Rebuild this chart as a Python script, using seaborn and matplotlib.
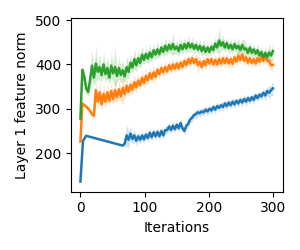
import matplotlib
matplotlib.use("Agg")
import matplotlib.pyplot as plt
import seaborn as sns
import pandas as pd

# ---------------- data ----------------
x_main = list(range(0, 301, 3))            # iterations for orange / green
x_blue = [0, 4, 9, 66] + list(range(69, 301, 3))

blue_vals = [136, 228, 239, 217,
             222, 240, 230, 244, 232, 240, 228, 238, 230, 240,
             231, 242, 234, 246, 236, 247, 238, 248, 238, 250,
             240, 252, 252, 260, 252, 262, 254, 264, 256, 268,
             256, 250, 262, 266, 276, 280, 286, 288, 292, 290,
             294, 292, 298, 294, 300, 296, 304, 298, 306, 302,
             308, 304, 312, 306, 314, 308, 316, 310, 318, 312,
             320, 314, 322, 316, 324, 318, 326, 320, 330, 324,
             332, 328, 336, 330, 340, 336, 342, 346]
blue_spread = [0, 0, 0, 0,
               8, 25, 18, 15, 12, 14, 10, 12, 9, 10,
               8, 10, 9, 11, 8, 10, 9, 10, 8, 10,
               8, 10, 8, 9, 8, 10, 8, 10, 8, 12,
               8, 9, 8, 10, 8, 9, 8, 10, 8, 9,
               8, 9, 8, 10, 8, 9, 8, 10, 8, 9,
               8, 9, 8, 10, 8, 9, 8, 10, 8, 9,
               8, 9, 8, 10, 8, 9, 8, 10, 8, 9,
               8, 10, 9, 12, 10, 14, 12, 16]

orange_vals = [226, 312, 308, 305, 300, 295, 288, 284, 342, 316,
               337, 310, 334, 316, 337, 318, 340, 322, 342, 326,
               344, 328, 347, 333, 352, 338, 354, 343, 360, 348,
               364, 353, 370, 358, 374, 364, 380, 368, 382, 372,
               388, 378, 392, 382, 394, 384, 398, 388, 400, 390,
               402, 391, 404, 394, 408, 398, 412, 402, 414, 403,
               412, 398, 406, 394, 408, 398, 412, 402, 412, 400,
               410, 400, 412, 402, 414, 403, 414, 402, 412, 401,
               416, 406, 420, 410, 422, 408, 416, 404, 414, 403,
               412, 402, 414, 406, 417, 408, 418, 408, 408, 398,
               399]
orange_spread = [0, 4, 4, 4, 4, 4, 5, 10, 20, 15,
                 25, 12, 22, 14, 20, 12, 22, 14, 25, 12,
                 20, 14, 35, 12, 18, 12, 16, 10, 18, 12,
                 16, 10, 15, 12, 18, 10, 14, 12, 16, 10,
                 14, 10, 12, 10, 14, 10, 12, 10, 14, 10,
                 12, 10, 12, 10, 12, 10, 12, 10, 12, 10,
                 12, 20, 12, 10, 12, 10, 12, 10, 12, 10,
                 12, 10, 14, 10, 12, 10, 12, 10, 12, 10,
                 12, 10, 14, 10, 12, 10, 12, 10, 12, 10,
                 12, 10, 12, 10, 12, 10, 14, 10, 15, 12,
                 14]

green_vals = [278, 388, 372, 345, 338, 365, 397, 370, 402, 383,
              394, 376, 400, 378, 392, 370, 397, 380, 394, 374,
              392, 376, 387, 373, 394, 383, 404, 393, 412, 398,
              414, 403, 422, 410, 424, 413, 427, 416, 432, 422,
              434, 423, 438, 428, 442, 431, 444, 434, 446, 434,
              440, 430, 444, 434, 446, 436, 448, 438, 446, 435,
              444, 433, 442, 430, 440, 428, 438, 428, 440, 432,
              447, 438, 454, 442, 450, 438, 448, 436, 444, 434,
              446, 436, 442, 432, 444, 434, 436, 426, 438, 426,
              434, 424, 432, 420, 428, 416, 426, 416, 427, 420,
              430]
green_spread = [0, 5, 15, 12, 10, 25, 35, 20, 40, 18,
                30, 15, 28, 18, 25, 15, 30, 20, 45, 15,
                25, 18, 22, 15, 25, 15, 20, 12, 22, 14,
                18, 12, 20, 10, 16, 12, 20, 10, 15, 12,
                18, 10, 14, 12, 20, 10, 16, 12, 25, 10,
                15, 12, 18, 10, 14, 12, 18, 10, 15, 12,
                14, 10, 15, 12, 16, 10, 14, 10, 12, 10,
                16, 12, 30, 12, 16, 10, 14, 12, 15, 10,
                14, 12, 18, 10, 14, 22, 12, 10, 14, 10,
                12, 10, 14, 10, 12, 10, 14, 10, 20, 12,
                18]

series_names = ["blue", "orange", "green"]
colors = ["#1f77b4", "#ff7f0e", "#2ca02c"]

# ---------------- long-form table (mean +/- spread replicates) -------------
rows = []
for name, xs, vals, spr in [("blue", x_blue, blue_vals, blue_spread),
                            ("orange", x_main, orange_vals, orange_spread),
                            ("green", x_main, green_vals, green_spread)]:
    for xi, v, s in zip(xs, vals, spr):
        for d in (-s, 0, s):
            rows.append({"Iterations": xi, "norm": v + d, "run": name})
df = pd.DataFrame(rows)

# ---------------- plot ----------------
fig = plt.figure(figsize=(3.0, 2.5), dpi=100)
ax = fig.add_axes([0.236, 0.233, 0.706, 0.694])
sns.lineplot(data=df, x="Iterations", y="norm", hue="run",
             hue_order=series_names, palette=colors,
             estimator="mean", errorbar=("pi", 100),
             err_kws={"alpha": 0.2, "linewidth": 0},
             linewidth=1.8, legend=False, ax=ax)
ax.set_ylim(113, 504)
ax.set_yticks([200, 300, 400, 500])
ax.set_xticks([0, 100, 200, 300])
ax.set_xlabel("Iterations", fontsize=10)
ax.set_ylabel("Layer 1 feature norm", fontsize=10)
ax.tick_params(labelsize=10)
fig.savefig("out.png", dpi=100)
